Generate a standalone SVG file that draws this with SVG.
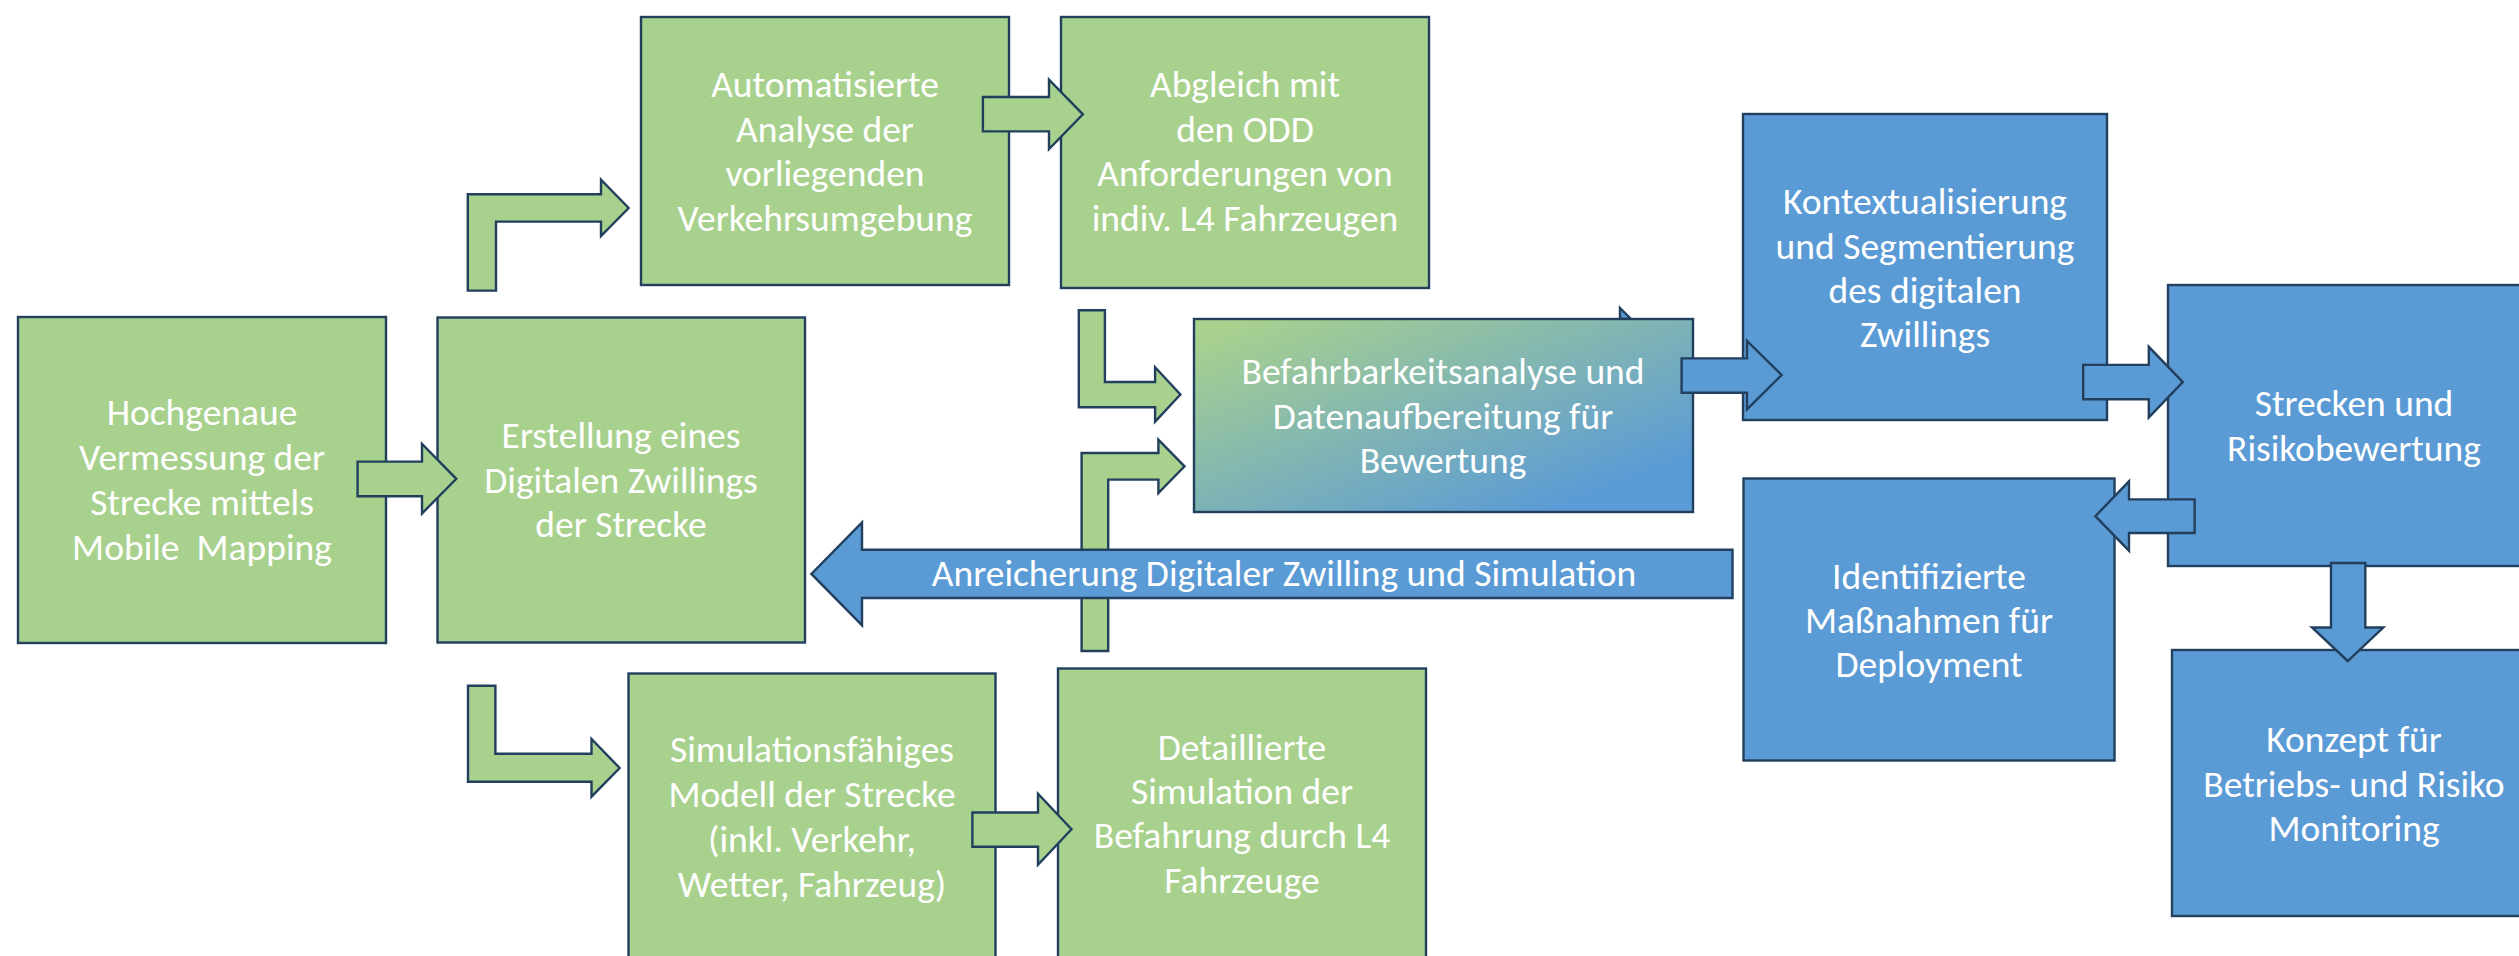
<svg xmlns="http://www.w3.org/2000/svg" width="2519" height="956" viewBox="0 0 2519 956">
<defs>
<style>
.g{fill:#A9D18E;stroke:#223F5E;stroke-width:2.4}
.b{fill:#5B9BD5;stroke:#223F5E;stroke-width:2.4}
.gr{fill:url(#grad);stroke:#223F5E;stroke-width:2.4}
text{font-family:Carlito,Lato,"Liberation Sans",sans-serif;font-size:37.5px;fill:#FFFFFF;text-anchor:middle}
</style>
<linearGradient id="grad" x1="0" y1="0" x2="1" y2="1">
<stop offset="0.05" stop-color="#A9D18E"/>
<stop offset="0.85" stop-color="#5B9BD5"/>
</linearGradient>
</defs>
<rect width="2519" height="956" fill="#FFFFFF"/>
<g id="connectors-hidden">
<polygon class="b" points="1620,308 1631,319 1620,319"/>
</g>
<g id="n-hochgenaue">
<rect class="g" x="18" y="317" width="368" height="326"/>
<text x="202" y="425">Hochgenaue</text>
<text x="202" y="470">Vermessung der</text>
<text x="202" y="515">Strecke mittels</text>
<text x="202" y="560" xml:space="preserve">Mobile  Mapping</text>
</g>
<g id="n-erstellung">
<rect class="g" x="437.5" y="317.5" width="367.5" height="325"/>
<text x="621" y="448">Erstellung eines</text>
<text x="621" y="493">Digitalen Zwillings</text>
<text x="621" y="537">der Strecke</text>
</g>
<g id="n-automatisierte">
<rect class="g" x="641" y="17" width="368" height="268"/>
<text x="825" y="97">Automatisierte</text>
<text x="825" y="142">Analyse der</text>
<text x="825" y="186">vorliegenden</text>
<text x="825" y="231">Verkehrsumgebung</text>
</g>
<g id="n-abgleich">
<rect class="g" x="1061" y="17" width="368" height="271"/>
<text x="1245" y="97">Abgleich mit</text>
<text x="1245" y="142">den ODD</text>
<text x="1245" y="186">Anforderungen von</text>
<text x="1245" y="231">indiv. L4 Fahrzeugen</text>
</g>
<g id="n-befahrbarkeit">
<rect class="gr" x="1194" y="319" width="499" height="193"/>
<text x="1443" y="384">Befahrbarkeitsanalyse und</text>
<text x="1443" y="429">Datenaufbereitung für</text>
<text x="1443" y="473">Bewertung</text>
</g>
<g id="n-kontext">
<rect class="b" x="1743" y="114" width="364" height="306"/>
<text x="1925" y="214">Kontextualisierung</text>
<text x="1925" y="259">und Segmentierung</text>
<text x="1925" y="303">des digitalen</text>
<text x="1925" y="347">Zwillings</text>
</g>
<g id="n-strecken">
<rect class="b" x="2168" y="285" width="372" height="281"/>
<text x="2354" y="416">Strecken und</text>
<text x="2354" y="461">Risikobewertung</text>
</g>
<g id="n-identifizierte">
<rect class="b" x="1743.5" y="478.5" width="371" height="282"/>
<text x="1929" y="589">Identifizierte</text>
<text x="1929" y="633">Maßnahmen für</text>
<text x="1929" y="677">Deployment</text>
</g>
<g id="n-konzept">
<rect class="b" x="2172" y="650" width="366" height="266"/>
<text x="2354" y="752">Konzept für</text>
<text x="2354" y="797">Betriebs- und Risiko</text>
<text x="2354" y="841">Monitoring</text>
</g>
<g id="n-simulationsfaehig">
<rect class="g" x="628.5" y="673.5" width="367" height="300"/>
<text x="812" y="762">Simulationsfähiges</text>
<text x="812" y="807">Modell der Strecke</text>
<text x="812" y="852">(inkl. Verkehr,</text>
<text x="812" y="897">Wetter, Fahrzeug)</text>
</g>
<g id="n-detaillierte">
<rect class="g" x="1058" y="668.5" width="368" height="310"/>
<text x="1242" y="760">Detaillierte</text>
<text x="1242" y="804">Simulation der</text>
<text x="1242" y="848">Befahrung durch L4</text>
<text x="1242" y="893">Fahrzeuge</text>
</g>
<g id="connectors">
<polygon class="g" points="357.6,461.6 422,461.6 422,444 456.3,478.8 422,513.5 422,496.3 357.6,496.3"/>
<polygon class="g" points="467.8,290.6 467.8,194.3 601,194.3 601,179.6 628.6,208 601,236 601,221.6 496,221.6 496,290.6"/>
<polygon class="g" points="982.9,97 1049,97 1049,79.6 1082.9,114.3 1049,149 1049,131.4 982.9,131.4"/>
<polygon class="g" points="1078.8,310.2 1104.9,310.2 1104.9,382 1155.1,382 1155.1,367.3 1180.4,394.5 1155.1,421.6 1155.1,407.3 1078.8,407.3"/>
<polygon class="g" points="1081.6,651 1081.6,453 1158.4,453 1158.4,439.6 1184.5,466.3 1158.4,493 1158.4,479.6 1108.2,479.6 1108.2,651"/>
<polygon class="g" points="468,685.7 495.4,685.7 495.4,753.7 591.5,753.7 591.5,739 619.6,768 591.5,796.7 591.5,781.7 468,781.7"/>
<polygon class="g" points="972.4,812.5 1038,812.5 1038,793.8 1071.5,829.3 1038,864.7 1038,846.7 972.4,846.7"/>
<g id="c-anreicherung">
<polygon class="b" points="1732.5,549.8 862,549.8 862,522.4 811.4,573.9 862,625.3 862,598 1732.5,598"/>
<text x="1284" y="586">Anreicherung Digitaler Zwilling und Simulation</text>
</g>
<polygon class="b" points="1681.6,358.4 1747,358.4 1747,340.8 1781.6,375 1747,409.4 1747,392.7 1681.6,392.7"/>
<polygon class="b" points="2083.2,364.9 2148.8,364.9 2148.8,346.8 2182.8,382.1 2148.8,417.4 2148.8,399.3 2083.2,399.3"/>
<polygon class="b" points="2194.6,499.4 2129,499.4 2129,481.3 2095.4,516.2 2129,550.7 2129,533 2194.6,533"/>
<polygon class="b" points="2331,563 2365.3,563 2365.3,627.5 2383.3,627.5 2347.7,661 2312,627.5 2331,627.5"/>
</g>
</svg>
